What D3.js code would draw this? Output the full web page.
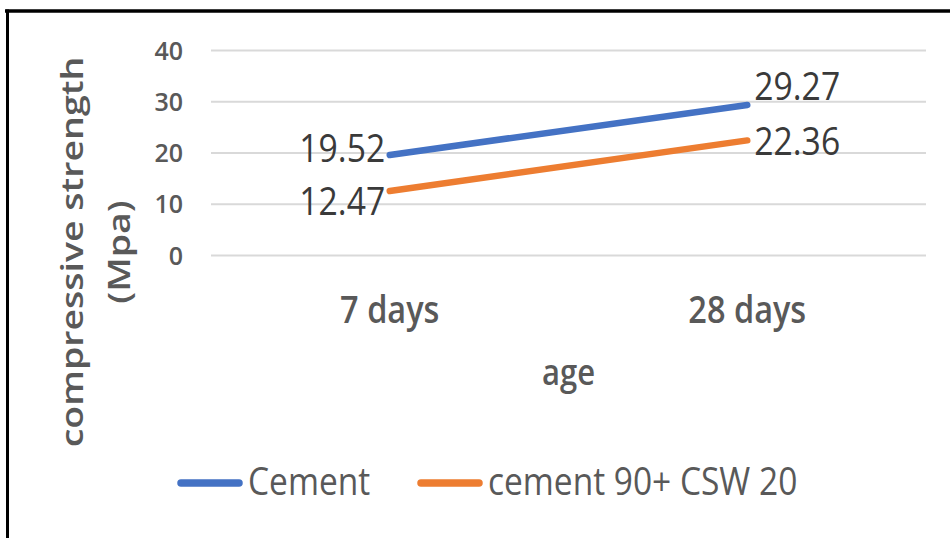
<!DOCTYPE html>
<html>
<head>
<meta charset="utf-8">
<script src="https://cdn.jsdelivr.net/npm/d3@7"></script>
<style>
  html, body { margin: 0; padding: 0; background: #fff; }
  svg { display: block; font-family: "Open Sans", "Noto Sans", sans-serif; }
</style>
</head>
<body>
<script>
// ---- data ----
const categories = ["7 days", "28 days"];
const seriesNames = ["Cement", "cement 90+ CSW 20"];
const cementValues = [19.52, 29.27];
const cswValues = [12.47, 22.36];
const yTicks = [0, 10, 20, 30, 40];
const xTitle = "age";
const yTitleLines = ["compressive strength", "(Mpa)"];
const colors = ["#4472C4", "#ED7D31"];

const FONT = "'Open Sans', 'Noto Sans', sans-serif";
const W = 950, H = 538;
const svg = d3.select("body").append("svg").attr("width", W).attr("height", H)
  .attr("font-family", FONT);

// frame (cropped border: top and left visible)
svg.append("rect").attr("x", 0).attr("y", 0).attr("width", W).attr("height", H).attr("fill", "#fff");
svg.append("line").attr("x1", 5).attr("x2", W).attr("y1", 11).attr("y2", 11)
  .attr("stroke", "#000").attr("stroke-width", 3.5);
svg.append("line").attr("x1", 7.5).attr("x2", 7.5).attr("y1", 9.5).attr("y2", H)
  .attr("stroke", "#000").attr("stroke-width", 3);

const plot = { left: 211, right: 926, top: 50, bottom: 255 };

const x = d3.scaleBand().domain(categories).range([plot.left, plot.right]).padding(0);
const cx = c => x(c) + x.bandwidth() / 2;
const y = d3.scaleLinear().domain([0, 40]).range([plot.bottom, plot.top]);

// gridlines + y tick labels via axis
const yAxis = d3.axisLeft(y).tickValues(yTicks).tickSize(-(plot.right - plot.left)).tickPadding(28);
const gy = svg.append("g").attr("transform", `translate(${plot.left},0)`).call(yAxis)
  .attr("font-family", FONT).attr("font-size", 25);
gy.select(".domain").remove();
gy.selectAll(".tick line").attr("stroke", "#d9d9d9").attr("stroke-width", 2);
gy.selectAll(".tick text")
  .attr("fill", "#595959").attr("font-size", 25).attr("font-weight", 600)
  .attr("font-family", FONT).attr("dy", "0.36em");

// x category labels via axis
const xAxis = d3.axisBottom(x).tickSize(0).tickPadding(0);
const gx = svg.append("g").call(xAxis).attr("font-family", FONT).attr("font-size", 32.5);
gx.select(".domain").remove();
gx.selectAll(".tick text").remove();
gx.selectAll(".tick").append("text")
  .attr("transform", "translate(0,323) scale(1,1.14)")
  .attr("text-anchor", "middle")
  .attr("fill", "#595959").attr("font-size", 32.5).attr("font-weight", 600)
  .attr("font-family", FONT)
  .text(d => d);

// x title
svg.append("text")
  .attr("transform", `translate(${(plot.left + plot.right) / 2},385) scale(1,1.14)`)
  .attr("text-anchor", "middle").attr("fill", "#595959")
  .attr("font-size", 31).attr("font-weight", 600).text(xTitle);

// y title
const yt = svg.append("text")
  .attr("transform", "translate(83,252) scale(1,1.19) rotate(-90)")
  .attr("text-anchor", "middle").attr("fill", "#595959")
  .attr("font-size", 31.5).attr("font-weight", 600);
yTitleLines.forEach((t, i) => {
  yt.append("tspan").attr("x", 0).attr("y", i * 47).text(t);
});

// series lines
const series = [cementValues, cswValues];
const line = d3.line().x((d, i) => cx(categories[i])).y(d => y(d));
series.forEach((vals, s) => {
  svg.append("path").datum(vals).attr("d", line)
    .attr("fill", "none").attr("stroke", colors[s]).attr("stroke-width", 6.5)
    .attr("stroke-linecap", "round");
});

// data labels
const labelDy = [[7, -5], [24, 14.6]];
series.forEach((vals, s) => {
  vals.forEach((v, i) => {
    const px = cx(categories[i]);
    const first = i === 0;
    svg.append("text")
      .attr("transform", `translate(${first ? px - 4.5 : px + 7},${y(v) + labelDy[s][i]}) scale(1,1.12)`)
      .attr("text-anchor", first ? "end" : "start")
      .attr("fill", "#3a3a3a").attr("font-size", 33.7)
      .text(v.toFixed(2));
  });
});

// legend
const legendItems = [
  { x0: 177, x1: 243, tx: 248 },
  { x0: 417, x1: 483, tx: 488 }
];
seriesNames.forEach((name, s) => {
  const it = legendItems[s];
  svg.append("line").attr("x1", it.x0 + 4).attr("x2", it.x1 - 4).attr("y1", 483).attr("y2", 483)
    .attr("stroke", colors[s]).attr("stroke-width", 7.5).attr("stroke-linecap", "round");
  svg.append("text")
    .attr("transform", `translate(${it.tx},495) scale(1,1.17)`)
    .attr("fill", "#595959").attr("font-size", 33.5)
    .text(name);
});
</script>
</body>
</html>
